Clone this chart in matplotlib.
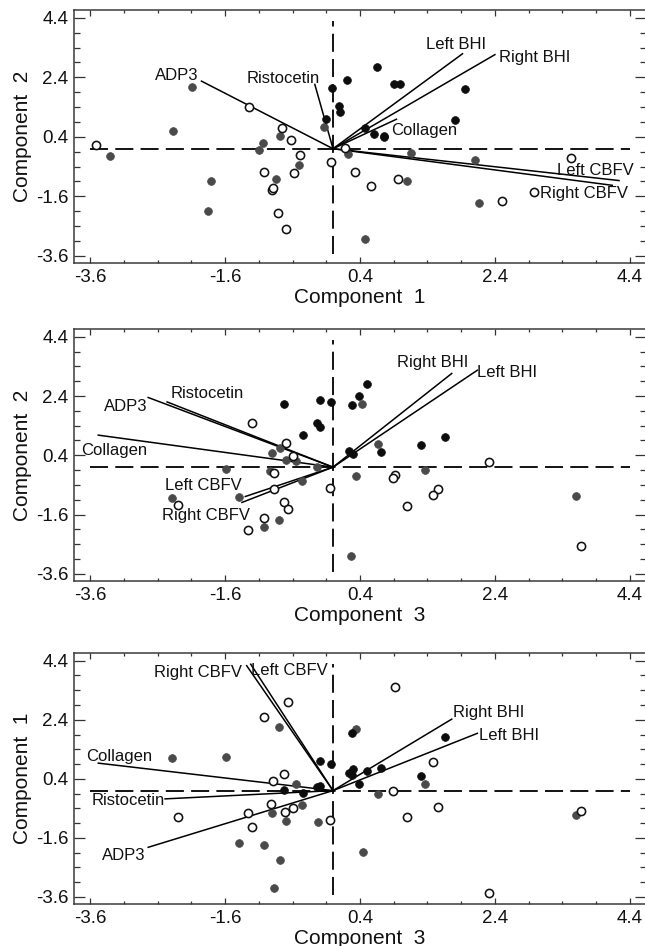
import matplotlib
matplotlib.use("Agg")
import matplotlib.pyplot as plt
from matplotlib.ticker import FixedLocator

plt.rcParams["font.family"] = ["Liberation Sans", "DejaVu Sans"]
plt.rcParams["axes.unicode_minus"] = False

# --- data ------------------------------------------------------------------
# panel 1: Component 1 (x) vs Component 2 (y)
black_x1 = [-0.02, 0.2, 0.65, 0.09, 0.1, -0.1, 0.9, 0.99, 1.95, 1.81, 0.48, 0.61, 0.75, 0.76]
black_y1 = [2.04, 2.32, 2.73, 1.43, 1.24, 0.99, 2.16, 2.18, 2.02, 0.97, 0.69, 0.49, 0.38, 0.44]
gray_x1 = [-3.31, -2.37, -2.09, -1.81, -1.85, -1.04, -1.1, -0.79, -0.51, -0.85, -0.13,
           0.22, 1.16, 2.11, 1.1, 2.16, 0.47]
gray_y1 = [-0.26, 0.6, 2.07, -1.08, -2.08, 0.18, -0.03, 0.41, -0.56, -1.02, 0.73,
           -0.18, -0.14, -0.38, -1.1, -1.82, -3.04]
open_x1 = [-3.51, -1.24, -0.75, -0.63, -0.49, -1.03, -0.58, -0.91, -0.89, -0.81, -0.7,
           -0.03, 0.18, 0.32, 0.56, 0.97, 2.5, 2.98, 3.53]
open_y1 = [0.12, 1.41, 0.71, 0.30, -0.2, -0.77, -0.8, -1.38, -1.32, -2.16, -2.71,
           -0.43, 0.04, -0.78, -1.24, -1.01, -1.77, -1.47, -0.31]

# panel 2: Component 3 (x) vs Component 2 (y)
black_x2 = [-0.72, -0.2, -0.03, -0.24, -0.2, -0.45, 0.28, 0.38, 0.5, 0.23, 0.3, 0.71, 1.31, 1.66]
black_y2 = [2.12, 2.26, 2.2, 1.48, 1.34, 1.08, 2.1, 2.4, 2.79, 0.55, 0.44, 0.52, 0.75, 1.03]
gray_x2 = [-0.91, -0.79, -0.7, -0.55, -1.59, -0.93, -0.46, -1.4, -2.39, -0.8, -1.03,
           -0.24, 0.43, 0.67, 0.34, 1.36, 3.6, 0.27]
gray_y2 = [0.49, 0.66, 0.24, 0.21, -0.07, -0.13, -0.48, -1.02, -1.04, -1.77, -2.03,
           0.02, 2.12, 0.77, -0.31, -0.1, -0.97, -3.0]
open_x2 = [-1.2, -0.7, -0.6, -0.88, -0.88, -0.72, -0.66, -2.3, -1.02, -1.26, -0.04,
           0.92, 0.89, 1.55, 1.48, 1.1, 2.31, 3.68]
open_y2 = [1.48, 0.8, 0.38, -0.2, -0.72, -1.19, -1.41, -1.27, -1.72, -2.11, -0.71,
           -0.26, -0.38, -0.74, -0.94, -1.32, 0.18, -2.66]

# panel 3: Component 3 (x) vs Component 1 (y)
black_x3 = [-0.2, -0.03, -0.72, -0.45, -0.24, -0.2, 0.28, 0.23, 0.28, 0.3, 0.38, 0.5, 0.71, 1.31, 1.66]
black_y3 = [1.01, 0.9, 0.01, -0.08, 0.12, 0.14, 1.94, 0.61, 0.54, 0.73, 0.22, 0.65, 0.76, 0.5, 1.8]
gray_x3 = [-2.39, -1.59, -0.8, -0.55, -0.46, -0.91, -0.7, -0.23, -1.4, -1.03, -0.79,
           -0.88, 0.34, 0.67, 1.36, 0.44, 3.6]
gray_y3 = [1.1, 1.15, 2.16, 0.23, -0.48, -0.75, -1.03, -1.08, -1.79, -1.84, -2.34,
           -3.29, 2.1, -0.13, 0.23, -2.07, -0.83]
open_x3 = [-0.66, -1.02, -0.72, -0.89, -0.92, -1.26, -0.71, -0.6, -1.2, -2.3, -0.04,
           0.92, 1.48, 0.89, 1.55, 1.1, 3.68, 2.31]
open_y3 = [3.0, 2.49, 0.57, 0.34, -0.45, -0.77, -0.73, -0.6, -1.22, -0.88, -1.01,
           3.52, 0.96, 0.0, -0.56, -0.88, -0.69, -3.47]

# loading vectors (end points), same variable order in every panel
vec_names = ["ADP3", "Ristocetin", "Collagen", "Left BHI", "Right BHI", "Left CBFV", "Right CBFV"]
vec_x1 = [-1.95, -0.27, 0.94, 1.92, 2.4, 4.24, 4.14]
vec_y1 = [2.27, 2.16, 0.99, 3.19, 3.16, -1.07, -1.23]
vec_x2 = [-2.74, -2.46, -3.48, 2.14, 1.76, -1.3, -1.35]
vec_y2 = [2.35, 2.2, 1.08, 3.27, 3.16, -0.99, -1.19]
vec_x3 = [-2.74, -2.49, -3.48, 2.14, 1.76, -1.22, -1.28]
vec_y3 = [-1.92, -0.28, 0.93, 1.94, 2.42, 4.28, 4.23]

major_ticks = [-3.6, -1.6, 0.4, 2.4, 4.4]
tick_labels = ["-3.6", "-1.6", "0.4", "2.4", "4.4"]
minor_ticks = [-3.6 + 0.5 * i for i in range(17)]

# --- layout ------------------------------------------------------------------
W, H = 645, 946
# label offsets from vector tips, in pixels (x right, y up)
label_offsets = [
    [(-25, 6), (-32, 6), (28, -11), (-6, 9), (40, -3), (-24, 10), (-28, -8)],
    [(-22, -9), (40, 8), (16, -15), (30, -2), (-19, 11), (-42, 11), (-36, -13)],
    [(-24, -8), (-37, -2), (21, 7), (32, -2), (37, 7), (39, -6), (-49, -7)],
]
# axes boxes in pixels: left, top, right, bottom
boxes = [(74, 10, 646, 263), (74, 329, 646, 581), (74, 653, 646, 904)]

panels = [
    dict(black=(black_x1, black_y1), gray=(gray_x1, gray_y1), open=(open_x1, open_y1),
         vec=(vec_x1, vec_y1), xlabel="Component  1", ylabel="Component  2"),
    dict(black=(black_x2, black_y2), gray=(gray_x2, gray_y2), open=(open_x2, open_y2),
         vec=(vec_x2, vec_y2), xlabel="Component  3", ylabel="Component  2"),
    dict(black=(black_x3, black_y3), gray=(gray_x3, gray_y3), open=(open_x3, open_y3),
         vec=(vec_x3, vec_y3), xlabel="Component  3", ylabel="Component  1"),
]

fig = plt.figure(figsize=(W / 100, H / 100), dpi=100)
fig.patch.set_facecolor("white")

for p, box, offs in zip(panels, boxes, label_offsets):
    l, t, r, b = box
    ax = fig.add_axes([l / W, 1 - b / H, (r - l) / W, (b - t) / H])
    ax.set_xlim(-3.84, 4.64)
    ax.set_ylim(-3.84, 4.66)

    # reference axes through the origin
    ax.plot([-3.6, 4.4], [0, 0], color="black", lw=1.3, dashes=(10, 4), zorder=1)
    ax.plot([0, 0], [-3.55, 4.3], color="black", lw=1.3, dashes=(10, 4), zorder=1)

    vx, vy = p["vec"]
    for name, x, y, off in zip(vec_names, vx, vy, offs):
        ax.plot([0, x], [0, y], color="black", lw=1.1, zorder=2)
        ax.annotate(name, xy=(x, y), xytext=off, textcoords="offset pixels",
                    ha="center", va="center", fontsize=12, color="#111111")

    ax.plot(*p["gray"], "o", ms=5.6, mfc="#4a4a4a", mec="#4a4a4a", mew=0.5, ls="none", zorder=3)
    ax.plot(*p["black"], "o", ms=5.6, mfc="#0d0d0d", mec="#0d0d0d", mew=0.5, ls="none", zorder=3)
    ax.plot(*p["open"], "o", ms=5.9, mfc="white", mec="#111111", mew=1.15, ls="none", zorder=3)

    ax.xaxis.set_major_locator(FixedLocator(major_ticks))
    ax.yaxis.set_major_locator(FixedLocator(major_ticks))
    ax.xaxis.set_minor_locator(FixedLocator(minor_ticks))
    ax.yaxis.set_minor_locator(FixedLocator(minor_ticks))
    ax.set_xticklabels(tick_labels)
    ax.set_yticklabels(tick_labels)
    ax.tick_params(axis="both", which="both", direction="in", top=True, right=True,
                   color="#333333", width=0.9, labelsize=13.5, labelcolor="#111111")
    ax.tick_params(axis="x", which="major", length=4, pad=4.5)
    ax.tick_params(axis="x", which="minor", length=2.2)
    ax.tick_params(axis="y", which="major", length=8, pad=4)
    ax.tick_params(axis="y", which="minor", length=4.5)
    for s in ax.spines.values():
        s.set_color("#3a3a3a")
        s.set_linewidth(1.1)

    ax.set_xlabel(p["xlabel"], fontsize=15, labelpad=1, color="#111111")
    ax.set_ylabel(p["ylabel"], fontsize=15, labelpad=3, color="#111111")

fig.savefig("out.png", dpi=100, facecolor="white")
